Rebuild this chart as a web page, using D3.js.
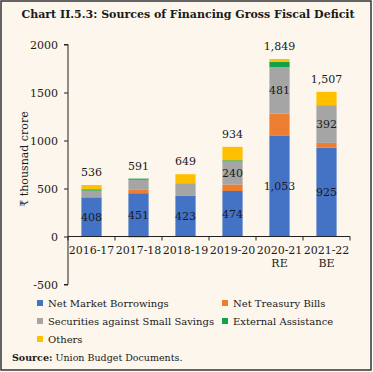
<!DOCTYPE html>
<html lang="en">
<head>
<meta charset="UTF-8">
<title>Sources of Financing Gross Fiscal Deficit</title>
<style>
    body { margin: 0; padding: 0; overflow: hidden; background: #fff; }
    svg { display: block; }
    text { font-family: "DejaVu Serif", "Liberation Serif", serif; fill: #1a1a1a; }
</style>
</head>
<body>
<svg id="chart" width="373" height="372"></svg>
<script src="https://cdn.jsdelivr.net/npm/d3@7"></script>
<script>
    // data (thousand crore)
    const years = ["2016-17", "2017-18", "2018-19", "2019-20", "2020-21 RE", "2021-22 BE"];
    const netMarketBorrowings = [408, 451, 423, 474, 1053, 925];
    const netTreasuryBills = [0, 35, 0, 68, 229, 50];
    const smallSavings = [70, 105, 130, 240, 481, 392];
    const externalAssistance = [14, 12, 2, 12, 55, 1];
    const others = [44, -12, 94, 140, 31, 139];
    const totals = ["536", "591", "649", "934", "1,849", "1,507"];
    const yTicks = [-500, 0, 500, 1000, 1500, 2000];

    const series = [
        {key: "nmb", name: "Net Market Borrowings", values: netMarketBorrowings, color: "#4472C4"},
        {key: "ntb", name: "Net Treasury Bills", values: netTreasuryBills, color: "#ED7D31"},
        {key: "sss", name: "Securities against Small Savings", values: smallSavings, color: "#A5A5A5"},
        {key: "ea", name: "External Assistance", values: externalAssistance, color: "#12A24B"},
        {key: "oth", name: "Others", values: others, color: "#FFC000"}
    ];

    const rows = years.map((yr, i) => {
        const r = {year: yr};
        series.forEach(s => r[s.key] = s.values[i]);
        return r;
    });

    const svg = d3.select("#chart");

    // background + frame
    svg.append("rect").attr("x", 1).attr("y", 1).attr("width", 370).attr("height", 369)
        .attr("fill", "#FCF6EC").attr("stroke", "#333").attr("stroke-width", 1.5);

    svg.append("text").attr("x", 188).attr("y", 18).attr("text-anchor", "middle")
        .style("font-weight", "bold").style("font-size", "11px")
        .text("Chart II.5.3: Sources of Financing Gross Fiscal Deficit");

    const x = d3.scaleBand().domain(years).range([68, 350]).paddingInner(0.57).paddingOuter(0.285);
    const y = d3.scaleLinear().domain([-500, 2000]).range([284.5, 44.5]);

    const stack = d3.stack().keys(series.map(s => s.key)).offset(d3.stackOffsetDiverging);
    const stacked = stack(rows);

    // bars
    svg.append("g").selectAll("g")
        .data(stacked)
        .join("g")
        .attr("fill", (d, i) => series[i].color)
        .selectAll("rect")
        .data(d => d)
        .join("rect")
        .attr("x", d => x(d.data.year))
        .attr("width", x.bandwidth())
        .attr("y", d => y(Math.max(d[0], d[1])))
        .attr("height", d => Math.abs(y(d[0]) - y(d[1])));

    // y axis
    const yAxis = svg.append("g").attr("transform", "translate(68,0)")
        .call(d3.axisLeft(y).tickValues(yTicks).tickSize(4).tickPadding(6).tickFormat(d => String(d)));
    yAxis.select(".domain").attr("stroke", "#222").attr("d", `M-4,${y(2000)}H0V${y(-500)}H-4`);
    yAxis.selectAll(".tick line").attr("stroke", "#222");
    yAxis.selectAll("text").style("font-size", "11px").style("font-family", "DejaVu Serif, serif").attr("fill", "#1a1a1a");

    svg.append("text")
        .attr("transform", `translate(28,${159}) rotate(-90)`)
        .attr("text-anchor", "middle").style("font-size", "11px")
        .text("₹ thousnad crore");

    // x axis at zero
    const xAxis = svg.append("g").attr("transform", `translate(0,${y(0)})`);
    xAxis.append("line").attr("x1", 68).attr("x2", 350).attr("stroke", "#222");
    const step = x.step();
    d3.range(years.length + 1).forEach(i => {
        xAxis.append("line").attr("x1", 68 + i * step).attr("x2", 68 + i * step)
            .attr("y1", 0).attr("y2", 4).attr("stroke", "#222");
    });
    xAxis.selectAll("text.cat")
        .data(years)
        .join("text")
        .attr("class", "cat")
        .attr("x", d => x(d) + x.bandwidth() / 2)
        .attr("y", 17)
        .attr("text-anchor", "middle")
        .style("font-size", "11px")
        .each(function (d) {
            const parts = d.split(" ");
            d3.select(this).selectAll("tspan").data(parts).join("tspan")
                .attr("x", x(d) + x.bandwidth() / 2)
                .attr("dy", (p, j) => j === 0 ? 0 : 13.5)
                .text(p => p);
        });

    // labels inside bars
    const cx = d => x(d) + x.bandwidth() / 2;
    svg.append("g").selectAll("text")
        .data(rows)
        .join("text")
        .attr("x", d => cx(d.year))
        .attr("y", d => y(d.nmb / 2) + 4)
        .attr("text-anchor", "middle").style("font-size", "11px")
        .text(d => d3.format(",")(d.nmb));

    const sssLabelled = ["2019-20", "2020-21 RE", "2021-22 BE"];
    svg.append("g").selectAll("text")
        .data(rows.filter(r => sssLabelled.includes(r.year)))
        .join("text")
        .attr("x", d => cx(d.year))
        .attr("y", d => y(d.nmb + d.ntb + d.sss / 2) + 4)
        .attr("text-anchor", "middle").style("font-size", "11px")
        .text(d => d3.format(",")(d.sss));

    // totals above
    svg.append("g").selectAll("text")
        .data(rows)
        .join("text")
        .attr("x", d => cx(d.year))
        .attr("y", (d, i) => {
            const top = d3.sum(series, s => Math.max(0, s.values[i]));
            return y(top) - 9;
        })
        .attr("text-anchor", "middle").style("font-size", "11px")
        .text((d, i) => totals[i]);

    // legend
    const legendPos = [[37, 303], [222, 303], [37, 321], [222, 321], [37, 339]];
    const legend = svg.append("g").selectAll("g")
        .data(series)
        .join("g")
        .attr("transform", (d, i) => `translate(${legendPos[i][0]},${legendPos[i][1]})`);
    legend.append("rect").attr("x", 0).attr("y", -3).attr("width", 6).attr("height", 6)
        .attr("fill", d => d.color);
    legend.append("text").attr("x", 11).attr("y", 4).style("font-size", "10px").text(d => d.name);

    const src = svg.append("text").attr("x", 12).attr("y", 361).style("font-size", "9.5px");
    src.append("tspan").style("font-weight", "bold").text("Source:");
    src.append("tspan").text(" Union Budget Documents.");
</script>
</body>
</html>
